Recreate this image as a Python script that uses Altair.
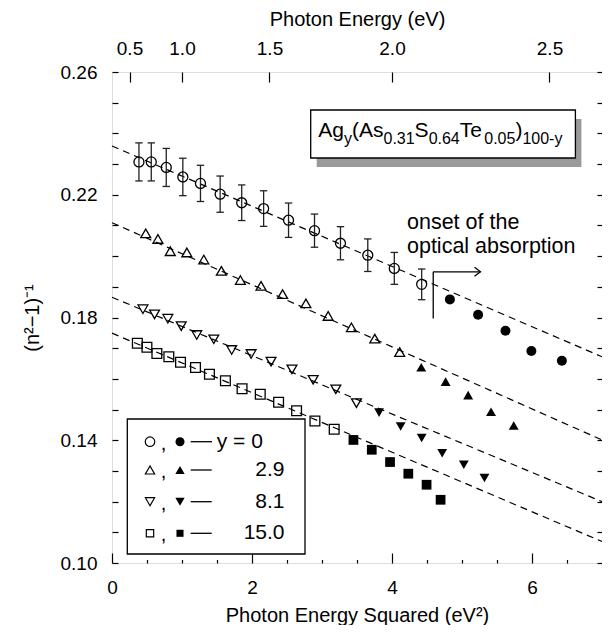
import math
import altair as alt
import pandas as pd

FONT = "Liberation Sans"

# ---------------- data ----------------
series_names = ["0", "2.9", "8.1", "15.0"]

circ_open_x = [0.385, 0.561, 0.775, 1.012, 1.264, 1.545, 1.853, 2.166, 2.522, 2.893, 3.264, 3.654, 4.033, 4.424]
circ_open_y = [0.2307, 0.2307, 0.2289, 0.2258, 0.2237, 0.2202, 0.2174, 0.2155, 0.2117, 0.2083, 0.2042, 0.2003, 0.1960, 0.1908]
circ_err = [0.0062, 0.0062, 0.0062, 0.0061, 0.0059, 0.0059, 0.0058, 0.0058, 0.0056, 0.0054, 0.0054, 0.0053, 0.0052, 0.0050]
circ_fill_x = [4.827, 5.230, 5.621, 5.991, 6.427]
circ_fill_y = [0.1859, 0.1809, 0.1757, 0.1691, 0.1659]

tri_open_x = [0.482, 0.656, 0.832, 1.069, 1.311, 1.563, 1.834, 2.129, 2.437, 2.770, 3.088, 3.420, 3.754, 4.110]
tri_open_y = [0.2074, 0.2056, 0.2016, 0.2012, 0.1989, 0.1952, 0.1922, 0.1903, 0.1876, 0.1846, 0.1805, 0.1768, 0.1731, 0.1687]
tri_fill_x = [4.418, 4.766, 5.088, 5.415, 5.739]
tri_fill_y = [0.1638, 0.1591, 0.1547, 0.1493, 0.1448]

inv_open_x = [0.442, 0.608, 0.798, 0.989, 1.211, 1.454, 1.710, 1.987, 2.272, 2.571, 2.874, 3.198, 3.492]
inv_open_y = [0.1827, 0.1810, 0.1796, 0.1772, 0.1743, 0.1729, 0.1694, 0.1681, 0.1656, 0.1631, 0.1597, 0.1566, 0.1521]
inv_fill_x = [3.815, 4.124, 4.424, 4.717, 5.026, 5.321]
inv_fill_y = [0.1490, 0.1445, 0.1407, 0.1358, 0.1320, 0.1277]

sq_open_x = [0.362, 0.499, 0.641, 0.812, 0.979, 1.193, 1.392, 1.620, 1.858, 2.118, 2.380, 2.637, 2.899, 3.174]
sq_open_y = [0.1716, 0.1703, 0.1683, 0.1672, 0.1654, 0.1637, 0.1615, 0.1594, 0.1568, 0.1550, 0.1524, 0.1496, 0.1463, 0.1436]
sq_fill_x = [3.449, 3.711, 3.972, 4.233, 4.494, 4.694]
sq_fill_y = [0.1401, 0.1369, 0.1329, 0.1291, 0.1255, 0.1206]

fit_x = [0.0, 7.0]
fit_y = {"0": [0.2359, 0.1672], "2.9": [0.2109, 0.1401], "8.1": [0.1866, 0.1200], "15.0": [0.1749, 0.1070]}

onset_x = [4.589]
onset_y = [0.1797, 0.1949]
onset_arrow_end = [5.264]
onset_text_x = [4.214]
onset_text_y = [0.2108, 0.2029]
onset_lines = ["onset of the", "optical absorption"]

energy_ticks = [0.5, 1.0, 1.5, 2.0, 2.5]
x_major = [0, 2, 4, 6]
x_minor = [0.5, 1.0, 1.5, 2.5, 3.0, 3.5, 4.5, 5.0, 5.5, 6.5]
y_ticks = [round(0.10 + 0.01 * i, 2) for i in range(17)]

# ---------------- tables ----------------
shapes = ["circle", "triangle-up", "triangle-down", "square"]
open_sizes = [100, 95, 95, 64]
fill_sizes = [90, 95, 95, 58]

open_rows, fill_rows = [], []
for name, xs, ys in zip(series_names, [circ_open_x, tri_open_x, inv_open_x, sq_open_x],
                        [circ_open_y, tri_open_y, inv_open_y, sq_open_y]):
    open_rows += [{"series": name, "x": a, "y": b} for a, b in zip(xs, ys)]
for name, xs, ys in zip(series_names, [circ_fill_x, tri_fill_x, inv_fill_x, sq_fill_x],
                        [circ_fill_y, tri_fill_y, inv_fill_y, sq_fill_y]):
    fill_rows += [{"series": name, "x": a, "y": b} for a, b in zip(xs, ys)]
df_open = pd.DataFrame(open_rows)
df_fill = pd.DataFrame(fill_rows)

df_fit = pd.DataFrame([{"series": s, "x": xv, "y": yv} for s in series_names for xv, yv in zip(fit_x, fit_y[s])])
df_err = pd.DataFrame({"x": circ_open_x, "lo": [y - e for y, e in zip(circ_open_y, circ_err)],
                       "hi": [y + e for y, e in zip(circ_open_y, circ_err)]})

XS = alt.Scale(domain=[0, 7], nice=False, zero=False)
YS = alt.Scale(domain=[0.10, 0.26], nice=False, zero=False)

x_axis = alt.Axis(orient="bottom", values=x_major, tickSize=10, offset=-10, domain=False, grid=False,
                  labelFontSize=19, labelPadding=15, labelFlush=False, labelColor="black",
                  tickColor="black", tickWidth=1.2, format="d",
                  title="Photon Energy Squared (eV²)", titleFontSize=20, titleFontWeight="normal",
                  titlePadding=8, titleColor="black")
y_axis = alt.Axis(orient="left", values=y_ticks, tickSize=6, offset=-6, domain=False, grid=False,
                  labelFontSize=19, labelPadding=15, labelColor="black", tickColor="black", tickWidth=1.2,
                  labelExpr="(round(datum.value*100) % 4 == 2) ? format(datum.value, '.2f') : ''",
                  title="(n²−1)⁻¹", titleFontSize=20, titleFontWeight="normal", titlePadding=18,
                  titleColor="black")

def X(field="x", axis=True):
    return alt.X(f"{field}:Q", scale=XS, axis=x_axis if axis else None)

def Y(field="y", axis=True):
    return alt.Y(f"{field}:Q", scale=YS, axis=y_axis if axis else None)

shape_enc = alt.Shape("series:N", scale=alt.Scale(domain=series_names, range=shapes), legend=None)

fits = alt.Chart(df_fit).mark_line(strokeDash=[7, 5], strokeWidth=1.2, color="black").encode(
    x=X(), y=Y(), detail="series:N")

err = alt.Chart(df_err).mark_rule(color="#222", strokeWidth=1.3).encode(x=X(), y=Y("lo"), y2="hi:Q")
cap_hi = alt.Chart(df_err).mark_rule(color="#222", strokeWidth=1.3, xOffset=-3.7, x2Offset=3.7).encode(
    x=X(), x2="x:Q", y=Y("hi"))
cap_lo = alt.Chart(df_err).mark_rule(color="#222", strokeWidth=1.3, xOffset=-3.7, x2Offset=3.7).encode(
    x=X(), x2="x:Q", y=Y("lo"))

open_pts = alt.Chart(df_open).mark_point(filled=False, color="black", opacity=1, strokeWidth=1.3).encode(
    x=X(), y=Y(), shape=shape_enc,
    size=alt.Size("series:N", scale=alt.Scale(domain=series_names, range=open_sizes), legend=None))
fill_pts = alt.Chart(df_fill).mark_point(filled=True, color="black", opacity=1).encode(
    x=X(), y=Y(), shape=shape_enc,
    size=alt.Size("series:N", scale=alt.Scale(domain=series_names, range=fill_sizes), legend=None))

df_arrow_v = pd.DataFrame({"x": onset_x, "y": [onset_y[0]], "y2": [onset_y[1]]})
df_arrow_h = pd.DataFrame({"x": onset_x, "x2": onset_arrow_end, "y": [onset_y[1]]})
df_head = pd.DataFrame({"x": onset_arrow_end, "y": [onset_y[1]]})
arrow_v = alt.Chart(df_arrow_v).mark_rule(color="black", strokeWidth=1.3).encode(x=X(), y=Y(), y2="y2:Q")
arrow_h = alt.Chart(df_arrow_h).mark_rule(color="black", strokeWidth=1.3).encode(x=X(), x2="x2:Q", y=Y())
arrow_head = alt.Chart(df_head).mark_point(shape="M-1,-0.75L0,0L-1,0.75", size=144, filled=False,
                                           color="black", opacity=1, strokeWidth=1.3).encode(x=X(), y=Y())
df_onset = pd.DataFrame({"x": onset_text_x * 2, "y": onset_text_y, "t": onset_lines})
onset_txt = alt.Chart(df_onset).mark_text(align="left", baseline="middle", fontSize=21.5, font=FONT,
                                          color="black").encode(x=X(), y=Y(), text="t:N")

one = pd.DataFrame({"k": [0]})
decor = []

# ---- composition label box (pixel positions relative to the plot) ----
W = {"A": 667, "g": 556, "(": 333, ")": 333, "s": 500, "S": 667, "T": 611, "e": 556, "y": 500, "-": 333, ".": 278}
def tw(s, fs):
    return sum(W.get(c, 556) for c in s) / 1000.0 * fs

pieces = [("Ag", 0), ("y", 1), ("(As", 0), ("0.31", 1), ("S", 0), ("0.64", 1), ("Te", 0), ("0.05", 1),
          (")", 0), ("100-y", 1)]
MAIN_FS, SUB_FS = 21, 16
px = 206.3
piece_pos = []
for t, sub in pieces:
    piece_pos.append((t, sub, px))
    px += tw(t, SUB_FS if sub else MAIN_FS)
box_l, box_t, box_b, box_r = 198.7, 38, 86, px + 13

decor.append(alt.Chart(one).mark_rect(color="#9a9a9a").encode(
    x=alt.value(box_l + 6), x2=alt.value(box_r + 6), y=alt.value(box_t + 9), y2=alt.value(box_b + 9)))
decor.append(alt.Chart(one).mark_rect(fill="white", stroke="black", strokeWidth=1.3).encode(
    x=alt.value(box_l), x2=alt.value(box_r), y=alt.value(box_t), y2=alt.value(box_b)))
for t, sub, xpos in piece_pos:
    decor.append(alt.Chart(one).mark_text(align="left", baseline="alphabetic", font=FONT,
                                          fontSize=SUB_FS if sub else MAIN_FS, color="black", text=t).encode(
        x=alt.value(xpos), y=alt.value(71.5 if sub else 64.7)))

# ---- legend (pixel positions relative to the plot) ----
decor.append(alt.Chart(one).mark_rect(fill="white", stroke="black", strokeWidth=1.3).encode(
    x=alt.value(15.3), x2=alt.value(193), y=alt.value(347), y2=alt.value(482)))
leg_rows_y = [369.7, 398, 429.7, 461.3]
for i, (name, shp) in enumerate(zip(series_names, shapes)):
    ry = leg_rows_y[i]
    decor.append(alt.Chart(one).mark_point(shape=shp, size=open_sizes[i] - 10, filled=False, color="black",
                                           opacity=1, strokeWidth=1.2).encode(x=alt.value(38), y=alt.value(ry)))
    decor.append(alt.Chart(one).mark_text(text=",", fontSize=20, font=FONT, color="black",
                                          baseline="middle").encode(x=alt.value(51.5), y=alt.value(ry + 2)))
    decor.append(alt.Chart(one).mark_point(shape=shp, size=fill_sizes[i] - 8, filled=True, color="black",
                                           opacity=1).encode(x=alt.value(68), y=alt.value(ry)))
    decor.append(alt.Chart(one).mark_rule(color="black", strokeWidth=1.3).encode(
        x=alt.value(78.7), x2=alt.value(100 if i == 0 else 99.7), y=alt.value(ry)))
    if i == 0:
        decor.append(alt.Chart(one).mark_text(text="y = 0", fontSize=21, font=FONT, color="black",
                                              align="left", baseline="middle").encode(
            x=alt.value(104.7), y=alt.value(ry)))
    else:
        decor.append(alt.Chart(one).mark_text(text=name, fontSize=21, font=FONT, color="black",
                                              align="right", baseline="middle").encode(
            x=alt.value(172.5), y=alt.value(ry)))

main = alt.layer(fits, err, cap_hi, cap_lo, open_pts, fill_pts, arrow_v, arrow_h, arrow_head, onset_txt,
                 *decor)

# ---- minor bottom ticks + right-side ticks ----
df_minor = pd.DataFrame({"x": x_minor, "yv": [0.2] * len(x_minor)})
minor = alt.Chart(df_minor).mark_point(opacity=0).encode(
    x=alt.X("x:Q", scale=XS, axis=alt.Axis(orient="bottom", values=x_minor, tickSize=3.5, offset=-3.5,
                                           domain=False, labels=False, grid=False, title=None,
                                           tickColor="black", tickWidth=1.2)),
    y=alt.Y("yv:Q", scale=YS, axis=alt.Axis(orient="right", values=y_ticks, tickSize=5, offset=-5,
                                            domain=False, labels=False, grid=False, title=None,
                                            tickColor="black", tickWidth=1.2)))

# ---- top photon-energy axis ----
df_top = pd.DataFrame({"E": energy_ticks})
top = alt.Chart(df_top).mark_point(opacity=0).encode(
    x=alt.X("E:Q", scale=alt.Scale(type="pow", exponent=2, domain=[0, math.sqrt(7)], nice=False),
            axis=alt.Axis(orient="top", values=energy_ticks, format=".1f", tickSize=10, offset=-10,
                          domain=False, grid=False, labelFontSize=19, labelPadding=14, labelFlush=False,
                          labelColor="black", tickColor="black", tickWidth=1.2,
                          title="Photon Energy (eV)", titleFontSize=20, titleFontWeight="normal",
                          titlePadding=10, titleColor="black")))

chart = alt.layer(main, minor, top).resolve_scale(x="independent", y="independent").properties(
    width=490, height=491, autosize=alt.AutoSizeParams(type="none"),
    padding={"left": 104, "top": 64, "right": 0, "bottom": 62},
).configure_view(stroke="#222", strokeWidth=1.5).configure(font=FONT).configure_text(font=FONT)

chart.save("out.html", embed_options={"renderer": "svg", "actions": False})
